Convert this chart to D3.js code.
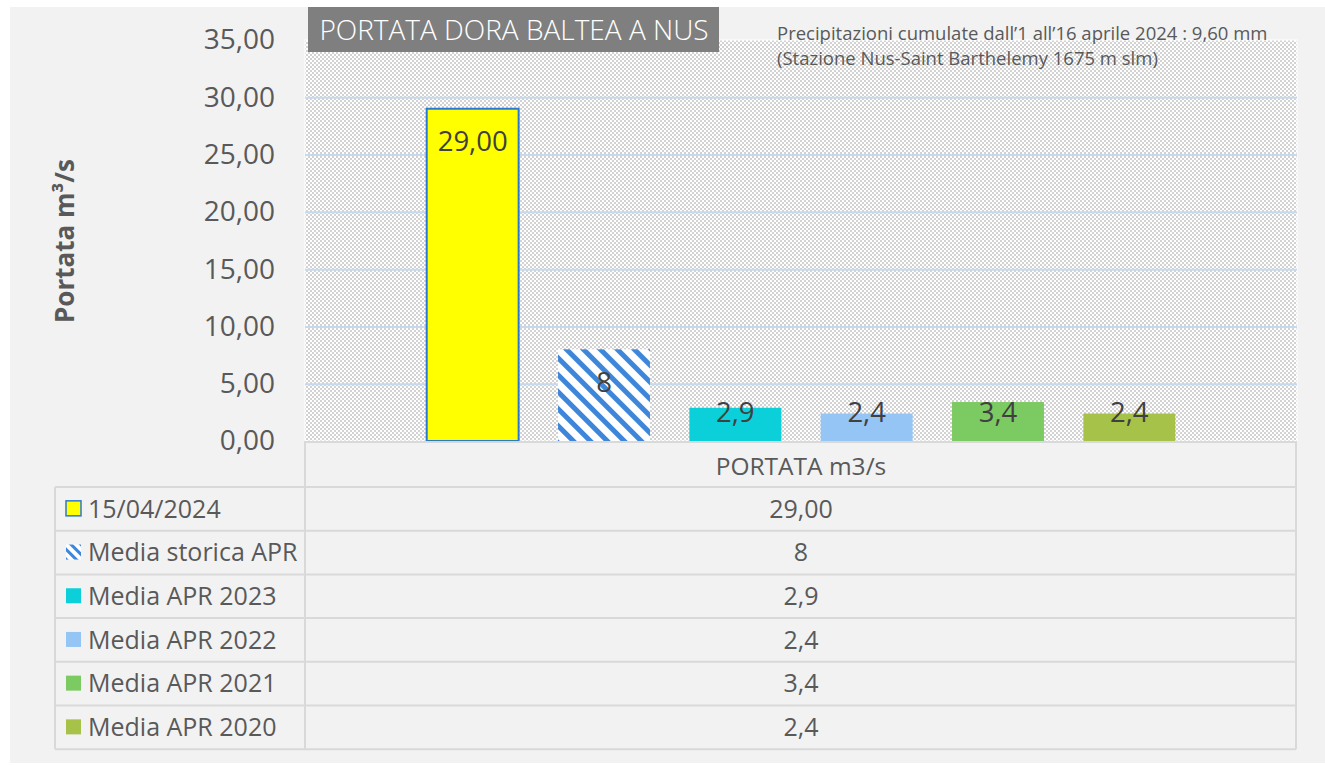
<!DOCTYPE html>
<html>
<head>
<meta charset="utf-8">
<script src="https://cdn.jsdelivr.net/npm/d3@7"></script>
<style>
 body{margin:0;background:#ffffff;}
 svg text{font-family:"Open Sans","Noto Sans",sans-serif;}
</style>
</head>
<body>
<div id="chart"></div>
<script>
// data
const category = 'PORTATA m3/s';
const seriesNames = ['15/04/2024','Media storica APR','Media APR 2023','Media APR 2022','Media APR 2021','Media APR 2020'];
const seriesValues = [29.00, 8, 2.9, 2.4, 3.4, 2.4];
const seriesLabels = ['29,00','8','2,9','2,4','3,4','2,4'];
const yTicks = [0,5,10,15,20,25,30,35];
const titleText = 'PORTATA DORA BALTEA A NUS';
const noteLines = ['Precipitazioni cumulate dall\u20191 all\u201916 aprile 2024 : 9,60 mm','(Stazione Nus-Saint Barthelemy 1675 m slm)'];

const fillColor = {'15/04/2024':'#ffff00','Media storica APR':'url(#stripes)','Media APR 2023':'#0bd0d9',
                   'Media APR 2022':'#94c5f5','Media APR 2021':'#7cca62','Media APR 2020':'#a6c249'};

const W = 1325, H = 765;
const plot = {left:305, right:1297, top:40, bottom:441};
const tableLeft = 55;
const rowH = 43.7;

const svg = d3.select('#chart').append('svg')
    .attr('width', W)
    .attr('height', H);

const defs = svg.append('defs');

// fine checker pattern for the plot area
const checker = defs.append('pattern')
    .attr('id','checker')
    .attr('width',4).attr('height',4)
    .attr('patternUnits','userSpaceOnUse');
checker.append('rect').attr('width',4).attr('height',4).attr('fill','#ffffff');
checker.append('rect').attr('width',2).attr('height',2).attr('fill','#d2d2d2');
checker.append('rect').attr('x',2).attr('y',2).attr('width',2).attr('height',2).attr('fill','#d2d2d2');

// diagonal stripes for the historical mean (upper left to lower right)
const stripes = defs.append('pattern')
    .attr('id','stripes')
    .attr('width',12).attr('height',12)
    .attr('patternUnits','userSpaceOnUse')
    .attr('patternTransform','rotate(45)');
stripes.append('rect').attr('width',12).attr('height',12).attr('fill','#ffffff');
stripes.append('rect').attr('width',12).attr('height',5).attr('fill','#3d86d9');

const legendStripes = defs.append('pattern')
    .attr('id','stripesSmall')
    .attr('width',7).attr('height',7)
    .attr('patternUnits','userSpaceOnUse')
    .attr('patternTransform','rotate(45)');
legendStripes.append('rect').attr('width',7).attr('height',7).attr('fill','#ffffff');
legendStripes.append('rect').attr('width',7).attr('height',3).attr('fill','#3d86d9');

// background panel
svg.append('rect')
    .attr('x',10).attr('y',7)
    .attr('width',W-10).attr('height',756)
    .attr('fill','#f2f2f2');

// plot area
svg.append('rect')
    .attr('x',plot.left).attr('y',plot.top)
    .attr('width',plot.right-plot.left).attr('height',plot.bottom-plot.top)
    .attr('fill','url(#checker)')
    .attr('stroke','#ffffff')
    .attr('stroke-width',1);

// scales
const yScale = d3.scaleLinear()
    .domain([0,35])
    .range([plot.bottom, plot.top]);

const xGroup = d3.scaleBand()
    .domain([category])
    .range([plot.left, plot.right]);

const xScale = d3.scaleBand()
    .domain(seriesNames)
    .range([xGroup(category)+102, xGroup(category)+xGroup.bandwidth()-102])
    .paddingInner(0.3)
    .paddingOuter(0.15);

// gridlines
const grid = svg.append('g')
    .attr('transform',`translate(${plot.left},0)`)
    .call(d3.axisLeft(yScale).tickValues(yTicks.filter(d=>d>0 && d<35)).tickSize(-(plot.right-plot.left)).tickFormat(''));
grid.select('.domain').remove();
grid.selectAll('line')
    .attr('stroke','#c7d9ee')
    .attr('stroke-width',2);

// y axis labels
const yAxis = svg.append('g')
    .attr('transform',`translate(${plot.left},0)`)
    .call(d3.axisLeft(yScale).tickValues(yTicks).tickSize(0).tickPadding(30)
        .tickFormat(d=>d3.format('.2f')(d).replace('.',',')));
yAxis.select('.domain').remove();
yAxis.selectAll('text')
    .attr('fill','#595959')
    .style('font-size','28px');

// y axis title
svg.append('text')
    .attr('transform','translate(74,241) rotate(-90)')
    .attr('text-anchor','middle')
    .attr('fill','#595959')
    .style('font-size','26px')
    .style('font-weight','bold')
    .text('Portata m\u00b3/s');

// bars
const bars = seriesNames.map((s,i)=>({name:s, value:seriesValues[i], label:seriesLabels[i]}));

svg.append('g')
    .selectAll('rect')
    .data(bars)
    .join('rect')
    .attr('x',d=>xScale(d.name))
    .attr('y',d=>yScale(d.value))
    .attr('width',xScale.bandwidth())
    .attr('height',d=>yScale(0)-yScale(d.value))
    .attr('fill',d=>fillColor[d.name])
    .attr('stroke',(d,i)=>i===0?'#2a78d6':'none')
    .attr('stroke-width',2);

svg.append('g')
    .selectAll('text')
    .data(bars)
    .join('text')
    .attr('x',d=>xScale(d.name)+xScale.bandwidth()/2)
    .attr('y',d=>Math.min(yScale(d.value)+33, 412))
    .attr('dy','0.35em')
    .attr('text-anchor','middle')
    .attr('fill','#404040')
    .style('font-size','27.5px')
    .text(d=>d.label);

// data table
const table = svg.append('g');
const tableTop = plot.bottom + 46;
const lineColor = '#d9d9d9';

table.append('text')
    .attr('x',xGroup(category)+xGroup.bandwidth()/2)
    .attr('y',plot.bottom+25)
    .attr('dy','0.35em')
    .attr('text-anchor','middle')
    .attr('fill','#595959')
    .style('font-size','24.5px')
    .text(category);

const rows = table.selectAll('g.row')
    .data(bars)
    .join('g')
    .attr('class','row')
    .attr('transform',(d,i)=>`translate(0,${tableTop + i*rowH})`);

rows.append('rect')
    .attr('x',66).attr('y',rowH/2-8)
    .attr('width',15).attr('height',15)
    .attr('fill',d=>d.name==='Media storica APR'?'url(#stripesSmall)':fillColor[d.name])
    .attr('stroke',(d,i)=>i===0?'#2a78d6':'none')
    .attr('stroke-width',1.5);

rows.append('text')
    .attr('x',88)
    .attr('y',rowH/2)
    .attr('dy','0.35em')
    .attr('fill','#595959')
    .style('font-size','25px')
    .text(d=>d.name);

rows.append('text')
    .attr('x',xGroup(category)+xGroup.bandwidth()/2)
    .attr('y',rowH/2)
    .attr('dy','0.35em')
    .attr('text-anchor','middle')
    .attr('fill','#595959')
    .style('font-size','25px')
    .text(d=>d.label);

// table lines
const tableBottom = tableTop + bars.length*rowH;
d3.range(bars.length+1).forEach(i=>{
  table.append('line')
      .attr('x1',tableLeft).attr('x2',plot.right-1)
      .attr('y1',tableTop+i*rowH).attr('y2',tableTop+i*rowH)
      .attr('stroke',lineColor).attr('stroke-width',2);
});
table.append('line')
    .attr('x1',plot.left).attr('x2',plot.right-1)
    .attr('y1',plot.bottom+1).attr('y2',plot.bottom+1)
    .attr('stroke',lineColor).attr('stroke-width',2);
[[tableLeft,tableTop],[plot.left,plot.bottom],[plot.right-1,plot.bottom]].forEach(([x,y0])=>{
  table.append('line')
      .attr('x1',x).attr('x2',x)
      .attr('y1',y0).attr('y2',tableBottom)
      .attr('stroke',lineColor).attr('stroke-width',2);
});

// title box
svg.append('rect')
    .attr('x',308).attr('y',7)
    .attr('width',411).attr('height',45)
    .attr('fill','#7f7f7f');
svg.append('text')
    .attr('x',514).attr('y',30)
    .attr('dy','0.35em')
    .attr('text-anchor','middle')
    .attr('fill','#ffffff')
    .style('font-size','28px')
    .style('font-weight','300')
    .text(titleText);

// precipitation note
svg.append('g')
    .selectAll('text')
    .data(noteLines)
    .join('text')
    .attr('x',777)
    .attr('y',(d,i)=>40+i*25)
    .attr('fill','#595959')
    .style('font-size','18.5px')
    .text(d=>d);
</script>
</body>
</html>
